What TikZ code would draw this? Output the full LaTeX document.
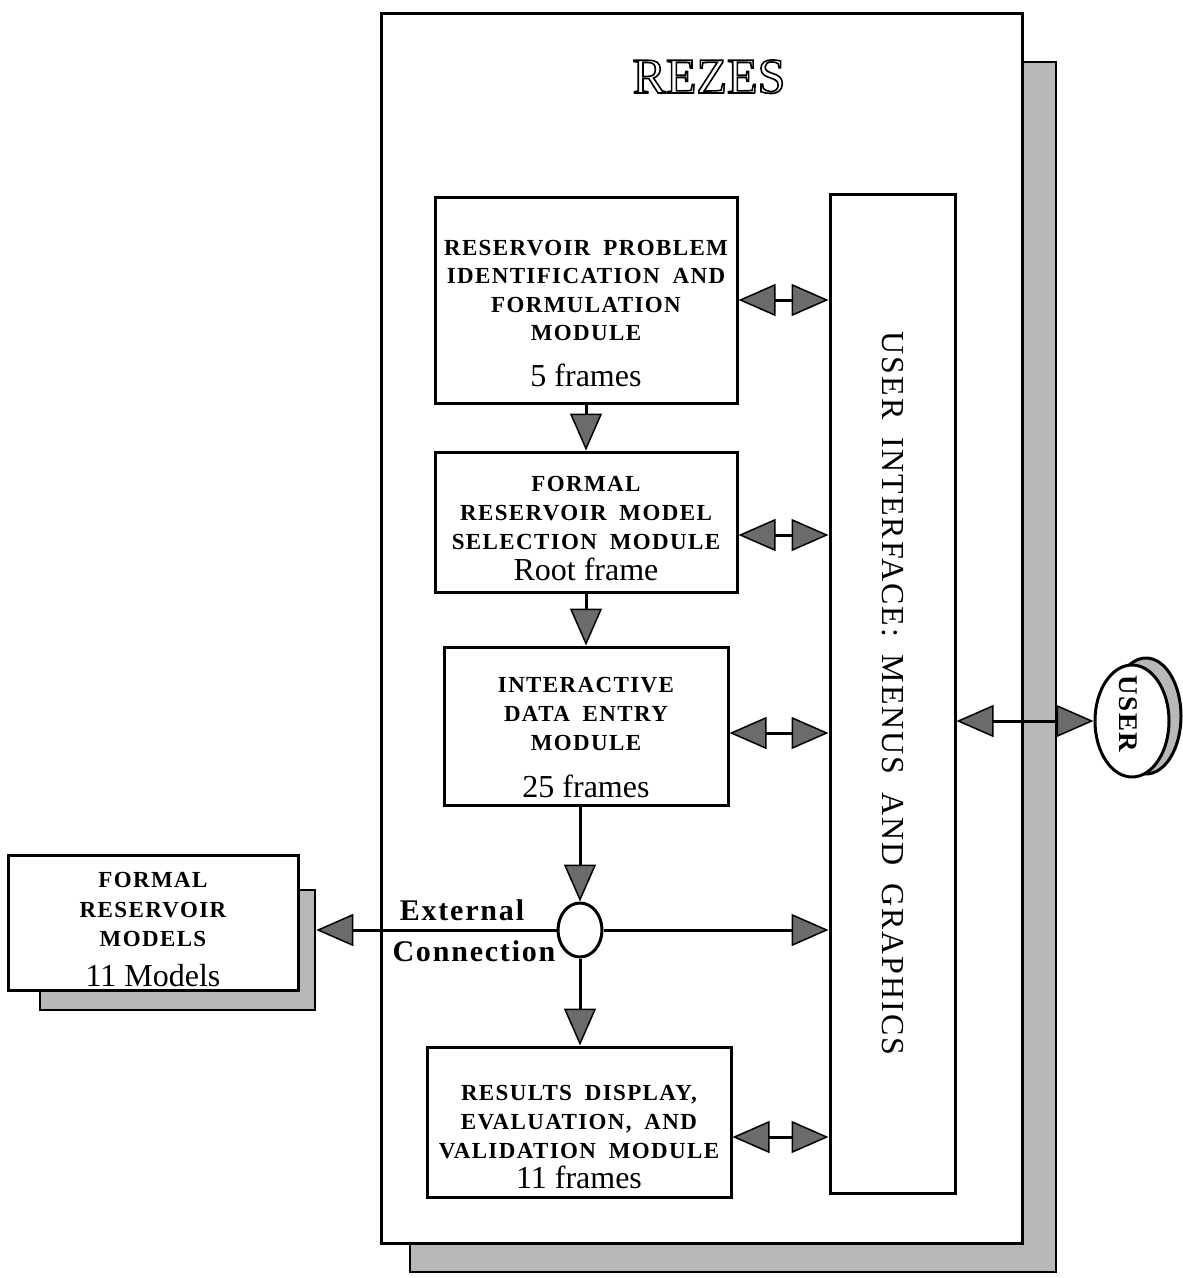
\documentclass[tikz,border=0pt]{standalone}
\usepackage{fontspec}
\setmainfont{Liberation Serif}
\newfontfamily\spacedserif{Liberation Serif}[LetterSpace=6,WordSpace=1.8]
\usetikzlibrary{arrows.meta,shapes.geometric,calc}

\definecolor{screen}{gray}{0.72}
\definecolor{headfill}{gray}{0.42}

\tikzset{
  shadowbox/.style={draw,line width=2.5pt,fill=screen,rectangle,inner sep=0pt},
  panel/.style={draw,line width=3pt,fill=white,rectangle,inner sep=0pt},
  caps/.style={anchor=base,inner sep=0pt,font=\spacedserif\bfseries\fontsize{23}{28}\selectfont},
  count/.style={anchor=base,inner sep=0pt,font=\fontsize{32}{36}\selectfont},
  bigcaps/.style={anchor=base,inner sep=0pt,font=\spacedserif\bfseries\fontsize{30}{34}\selectfont},
  titletext/.style={anchor=base,inner sep=0pt,font=\fontsize{50}{54}\selectfont},
  link/.style={draw,line width=3pt},
  fathead/.tip={Triangle[width=32pt,length=37pt,line width=1.5pt,fill=headfill]},
}
% outlined lettering: glyphs filled white and stroked black
\newcommand{\outlined}[1]{\special{pdf:literal direct 2 Tr 1.6 w 0 G 1 g}#1\special{pdf:literal direct 0 Tr 0 g}}

\begin{document}
\begin{tikzpicture}[x=1pt,y=-1pt]
\useasboundingbox (0,0) rectangle (1183,1278);

% system frame with its drop shadow
\node[shadowbox,minimum width=646pt,minimum height=1210pt] (frameshadow) at (733,667) {};
\node[panel,minimum width=641pt,minimum height=1230pt] (frame) at (701.5,628) {};

% outlined title
\node[titletext] (rezes) at (709,93) {\outlined{REZES}};

% the user, drawn as a disk
\node[shadowbox,ellipse,minimum width=70pt,minimum height=116pt,line width=3pt] (userback) at (1146,716) {};
\node[panel,ellipse,minimum width=74pt,minimum height=112pt] (user) at (1132,721) {};
\node[rotate=-90,inner sep=0pt,font=\spacedserif\bfseries\fontsize{27}{30}\selectfont] (userlabel) at (1128,714) {USER};

% external model library
\node[shadowbox,minimum width=275pt,minimum height=120pt] (extshadow) at (177.5,950) {};
\node[panel,minimum width=290pt,minimum height=135pt] (ext) at (153,922.5) {};

% modules
\node[panel,minimum width=302pt,minimum height=206pt] (b1) at (586,300) {};
\node[panel,minimum width=302pt,minimum height=140pt] (b2) at (586,522) {};
\node[panel,minimum width=284pt,minimum height=158pt] (b3) at (586,726) {};
\node[panel,minimum width=304pt,minimum height=150pt] (b4) at (579,1122) {};
\node[panel,minimum width=125pt,minimum height=999pt] (ui) at (892.5,693.5) {};
\node[rotate=-90,inner sep=0pt,font=\spacedserif\fontsize{32}{36}\selectfont] (uilabel) at (ui.center) {USER INTERFACE: MENUS AND GRAPHICS};

% junction
\node[panel,ellipse,minimum width=44pt,minimum height=54pt] (hub) at (580,930) {};

% flow between modules
\draw[link,-{fathead}] (b1.south) -- (b2.north);
\draw[link,-{fathead}] (b2.south) -- (b3.north);
\draw[link,-{fathead}] (hub.north |- b3.south) -- (hub.north);
\draw[link,-{fathead}] (hub.south) -- (hub.south |- b4.north);
\draw[link,-{fathead}] (hub.west) -- (hub.west -| extshadow.east);
\draw[link,-{fathead}] (hub.east) -- (hub.east -| ui.west);

% exchanges with the user interface
\coordinate (a1) at (b1.east);
\coordinate (a2) at ($(b2.east)+(0,13)$);
\coordinate (a3) at ($(b3.east)+(0,7)$);
\coordinate (a4) at ($(b4.east)+(0,15)$);
\draw[link,{fathead}-{fathead}] (a1) -- (a1 -| ui.west);
\draw[link,{fathead}-{fathead}] (a2) -- (a2 -| ui.west);
\draw[link,{fathead}-{fathead}] (a3) -- (a3 -| ui.west);
\draw[link,{fathead}-{fathead}] (a4) -- (a4 -| ui.west);
\draw[link,{fathead}-{fathead}] (ui.east |- user.west) -- (user.west);

% module texts
\node[caps] (t1a) at (586,255) {RESERVOIR PROBLEM};
\node[caps] (t1b) at (586,283) {IDENTIFICATION AND};
\node[caps] (t1c) at (586,312) {FORMULATION};
\node[caps] (t1d) at (586,340) {MODULE};
\node[count] (t1e) at (586,386) {5 frames};

\node[caps] (t2a) at (586,491) {FORMAL};
\node[caps] (t2b) at (586,520) {RESERVOIR MODEL};
\node[caps] (t2c) at (586,549) {SELECTION MODULE};
\node[count] (t2d) at (586,580) {Root frame};

\node[caps] (t3a) at (586,692) {INTERACTIVE};
\node[caps] (t3b) at (586,721) {DATA ENTRY};
\node[caps] (t3c) at (586,750) {MODULE};
\node[count] (t3d) at (586,797) {25 frames};

\node[caps] (t4a) at (579,1100) {RESULTS DISPLAY,};
\node[caps] (t4b) at (579,1129) {EVALUATION, AND};
\node[caps] (t4c) at (579,1158) {VALIDATION MODULE};
\node[count] (t4d) at (579,1188) {11 frames};

\node[caps] (t5a) at (153,887) {FORMAL};
\node[caps] (t5b) at (153,917) {RESERVOIR};
\node[caps] (t5c) at (153,946) {MODELS};
\node[count] (t5d) at (153,986) {11 Models};

\node[bigcaps] (extlabel) at (462,920) {External};
\node[bigcaps] (connlabel) at (474,961) {Connection};
\end{tikzpicture}
\end{document}
